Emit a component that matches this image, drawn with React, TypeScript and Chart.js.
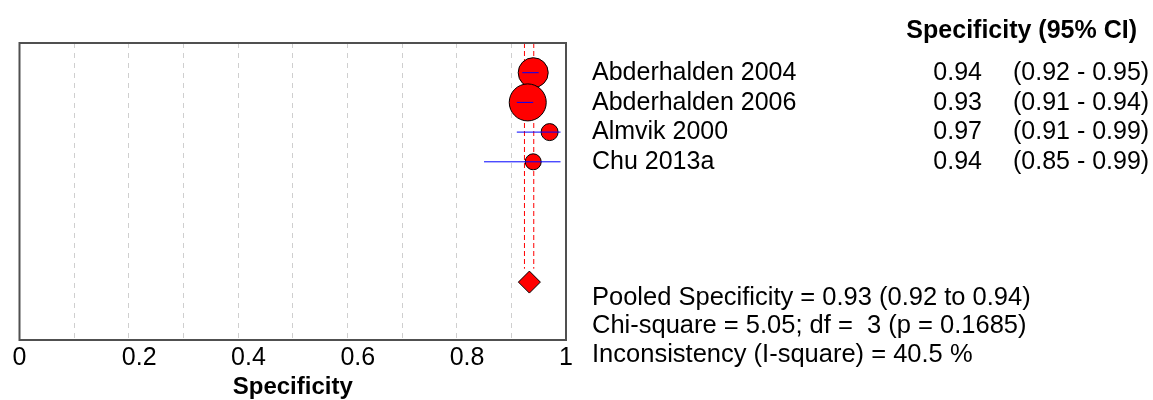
import React, { useEffect, useRef } from "react";
import { Chart, registerables } from "chart.js";

Chart.register(...registerables);

const studies = ["Abderhalden 2004", "Abderhalden 2006", "Almvik 2000", "Chu 2013a"];
const specificity = [0.94, 0.93, 0.97, 0.94];
const ciLow = [0.92, 0.91, 0.91, 0.85];
const ciHigh = [0.95, 0.94, 0.99, 0.99];
const weightRadius = [15, 18.5, 8.5, 8];
const rowPos = [1, 2, 3, 4];
const pooledEst = 0.933;
const pooledLow = 0.924;
const pooledHigh = 0.941;
const pooledRow = 8.05;
const xTicks = [0, 0.1, 0.2, 0.3, 0.4, 0.5, 0.6, 0.7, 0.8, 0.9, 1];
const headerText = "Specificity (95% CI)";
const statsLines = [
  "Pooled Specificity = 0.93 (0.92 to 0.94)",
  "Chi-square = 5.05; df =  3 (p = 0.1685)",
  "Inconsistency (I-square) = 40.5 %",
];
const axisTitle = "Specificity";

const FONT = "'Liberation Sans', Arial, sans-serif";

export default function App() {
  const ref = useRef<HTMLCanvasElement | null>(null);
  useEffect(() => {
    document.body.style.margin = "0";
    const canvas = ref.current;
    if (!canvas) return;

    const textPlugin = {
      id: "forestText",
      afterDatasetsDraw(chart: any) {
        const ctx = chart.ctx;
        const { left, right, top, bottom } = chart.chartArea;
        const y = chart.scales.y;
        ctx.save();
        // plot box
        ctx.strokeStyle = "#505050";
        ctx.lineWidth = 2;
        ctx.strokeRect(left, top, right - left, bottom - top);
        ctx.fillStyle = "#000";
        ctx.textBaseline = "middle";
        ctx.font = `bold 25px ${FONT}`;
        ctx.textAlign = "right";
        ctx.fillText(headerText, 1137, 31);
        ctx.font = `25px ${FONT}`;
        studies.forEach((s, i) => {
          const py = y.getPixelForValue(rowPos[i]) + 0.5;
          ctx.textAlign = "left";
          ctx.fillText(s, 592, py);
          ctx.textAlign = "right";
          ctx.fillText(specificity[i].toFixed(2), 982, py);
          ctx.textAlign = "left";
          ctx.fillText(`(${ciLow[i].toFixed(2)} - ${ciHigh[i].toFixed(2)})`, 1013, py);
        });
        ctx.textAlign = "left";
        ctx.font = `25.5px ${FONT}`;
        const ys = [298, 326, 355];
        statsLines.forEach((t, i) => ctx.fillText(t, 592, ys[i]));
        ctx.restore();
      },
    };

    const errorBars = studies.map((_, i) => ({
      type: "line" as const,
      data: [
        { x: ciLow[i], y: rowPos[i] },
        { x: ciHigh[i], y: rowPos[i] },
      ],
      borderColor: "#0000ff",
      borderWidth: 1,
      pointRadius: 0,
      showLine: true,
      order: 0,
    }));

    const chart = new Chart(canvas, {
      type: "scatter",
      data: {
        datasets: [
          ...errorBars,
          {
            type: "scatter",
            data: studies.map((_, i) => ({ x: specificity[i], y: rowPos[i] })),
            pointRadius: weightRadius,
            backgroundColor: "#ff0000",
            borderColor: "#000000",
            borderWidth: 1,
            order: 1,
          },
          {
            type: "scatter",
            data: [{ x: pooledEst, y: pooledRow }],
            pointStyle: "rectRot",
            pointRadius: 11,
            backgroundColor: "#ff0000",
            borderColor: "#000000",
            borderWidth: 1,
            order: 1,
          },
          {
            type: "line",
            data: [
              { x: pooledLow, y: 0 },
              { x: pooledLow, y: 7.6 },
            ],
            borderColor: "#ff0000",
            borderWidth: 1,
            borderDash: [5, 3],
            pointRadius: 0,
            order: 2,
          },
          {
            type: "line",
            data: [
              { x: pooledHigh, y: 0 },
              { x: pooledHigh, y: 7.6 },
            ],
            borderColor: "#ff0000",
            borderWidth: 1,
            borderDash: [5, 3],
            pointRadius: 0,
            order: 2,
          },
        ] as any,
      },
      options: {
        animation: false,
        responsive: false,
        layout: { padding: { left: 17, right: 587, top: 43, bottom: 0 } },
        plugins: { legend: { display: false }, tooltip: { enabled: false } },
        scales: {
          x: {
            type: "linear",
            min: 0,
            max: 1,
            afterBuildTicks: (scale: any) => {
              scale.ticks = xTicks.map((v) => ({ value: v }));
            },
            afterFit: (scale: any) => {
              scale.height = 60;
              scale.paddingLeft = 0;
              scale.paddingRight = 0;
            },
            ticks: {
              autoSkip: false,
              maxRotation: 0,
              color: "#000",
              padding: 3,
              align: "start",
              labelOffset: -7,
              font: { family: FONT, size: 25 },
              callback: (v: any) => {
                const n = Math.round(Number(v) * 10);
                return n % 2 === 0 ? String(n / 10) : "";
              },
            },
            grid: {
              color: (c: any) => (c.tick && (c.tick.value === 0 || c.tick.value === 1) ? "rgba(0,0,0,0)" : "#cfcfcf"),
              lineWidth: 1,
              drawTicks: false,
            },
            border: { display: false, dash: [5, 5] },
            title: {
              display: true,
              text: axisTitle,
              color: "#000",
              font: { family: FONT, size: 24, weight: "bold" },
              padding: { top: 0, bottom: -2 },
            },
          },
          y: {
            type: "linear",
            display: false,
            min: 0,
            max: 10,
            reverse: true,
          },
        },
      },
      plugins: [textPlugin],
    });
    return () => chart.destroy();
  }, []);
  return (
    <div style={{ width: 1153, height: 400 }}>
      <canvas ref={ref} width={1153} height={400} style={{ display: "block" }} />
    </div>
  );
}
